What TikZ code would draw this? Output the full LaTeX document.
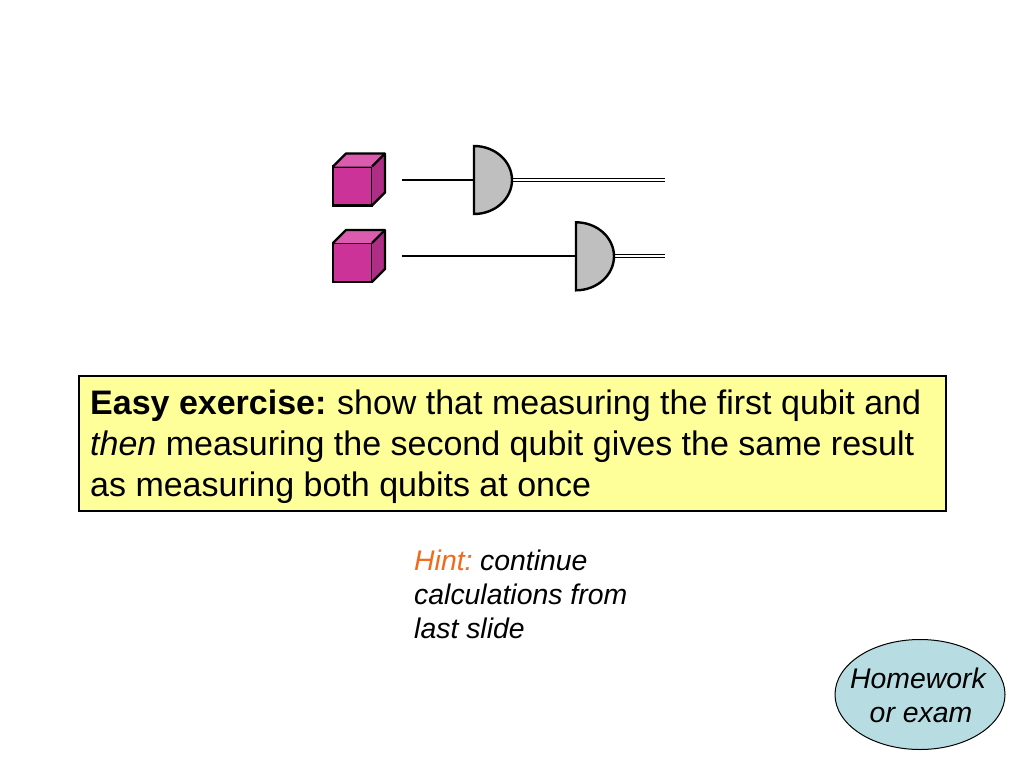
\documentclass[tikz,border=0pt]{standalone}
\usepackage{fontspec}
\setmainfont{Liberation Sans}
\usetikzlibrary{shapes.geometric}
\definecolor{cubefront}{HTML}{CC3399}
\definecolor{cubetop}{HTML}{DB5CAE}
\definecolor{cubeside}{HTML}{AE2E85}
\definecolor{gategray}{HTML}{BFBFBF}
\definecolor{boxyellow}{HTML}{FFFF99}
\definecolor{ovalblue}{HTML}{B7DDE2}
\definecolor{hintorange}{HTML}{F26A1B}
\tikzset{
    cubebox/.style={draw=black, line width=2.4pt, fill=cubefront, minimum width=39pt, minimum height=39pt, inner sep=0pt, outer sep=0pt},
    gatebox/.style={minimum width=38pt, minimum height=68pt, inner sep=0pt, outer sep=0pt},
    wire/.style={black, line width=2pt},
    classical/.style={double=white, double distance=1.7pt, line width=1.3pt, black}
}
\newcommand{\qubitcube}[1]{
    \fill[cubetop] (#1.north west) -- ++(13,-13) -- ++(39,0) -- ++(-13,13) -- cycle;
    \fill[cubeside] (#1.north east) -- ++(13,-13) -- ++(0,39) -- ++(-13,13) -- cycle;
    \draw[line width=2.4pt, line join=round] (#1.north west) -- ++(13,-13) -- ++(39,0) -- ++(0,39) -- (#1.south east);
    \draw[line width=2.4pt] (#1.north east) -- ++(13,-13);
}
\newcommand{\gatebody}[1]{
    \draw[line width=2.4pt, fill=gategray] (#1.north west) arc[start angle=-90, end angle=90, x radius=38, y radius=34] -- cycle;
}
\begin{document}
\begin{tikzpicture}[x=1pt, y=-1pt]
    \useasboundingbox (0,0) rectangle (1024,768);

    % qubits
    \node[cubebox] (cubeA) at (352.5,186) {};
    \node[cubebox] (cubeB) at (352.5,262.5) {};
    \qubitcube{cubeA}
    \qubitcube{cubeB}

    % measurements
    \coordinate (inA) at (402,180);
    \coordinate (inB) at (402,256.3);
    \coordinate (outA) at (665,180);
    \coordinate (outB) at (665,256.3);
    \node[gatebox] (gateA) at (493,180) {};
    \node[gatebox] (gateB) at (595,256.3) {};

    \draw[wire] (inA) -- (gateA.west);
    \draw[wire] (inB) -- (gateB.west);
    \draw[classical] (gateA.east) -- (outA);
    \draw[classical] (gateB.east) -- (outB);
    \gatebody{gateA}
    \gatebody{gateB}

    % exercise
    \node[draw=black, line width=2pt, fill=boxyellow, minimum width=867pt, minimum height=135pt] (exercise) at (512.5,443.5) {};
    \node[anchor=west, inner sep=0pt, align=left, font=\fontsize{34}{41}\selectfont] (exercisetext) at (90,446.5)
        {\textbf{Easy exercise:}\kern-2pt{} show that measuring the first qubit and\\
         \textit{then} measuring the second qubit gives the same result\\
         as measuring both qubits at once};

    % hint
    \node[anchor=north west, inner sep=0pt, align=left, font=\fontsize{28.4}{34}\selectfont\itshape] (hint) at (414,550)
        {\textcolor{hintorange}{Hint:}\kern-3pt{} continue\\ calculations from\\ last slide};

    % oval
    \node[draw=black, line width=1pt, fill=ovalblue, ellipse, minimum width=170pt, minimum height=110pt, inner sep=0pt] (homework) at (920,694.5) {};
    \node[inner sep=0pt, align=center, font=\fontsize{28.4}{34}\selectfont\itshape] (homeworktext) at (918,695.5) {Homework\\ \hspace*{6pt}or exam};
\end{tikzpicture}
\end{document}
